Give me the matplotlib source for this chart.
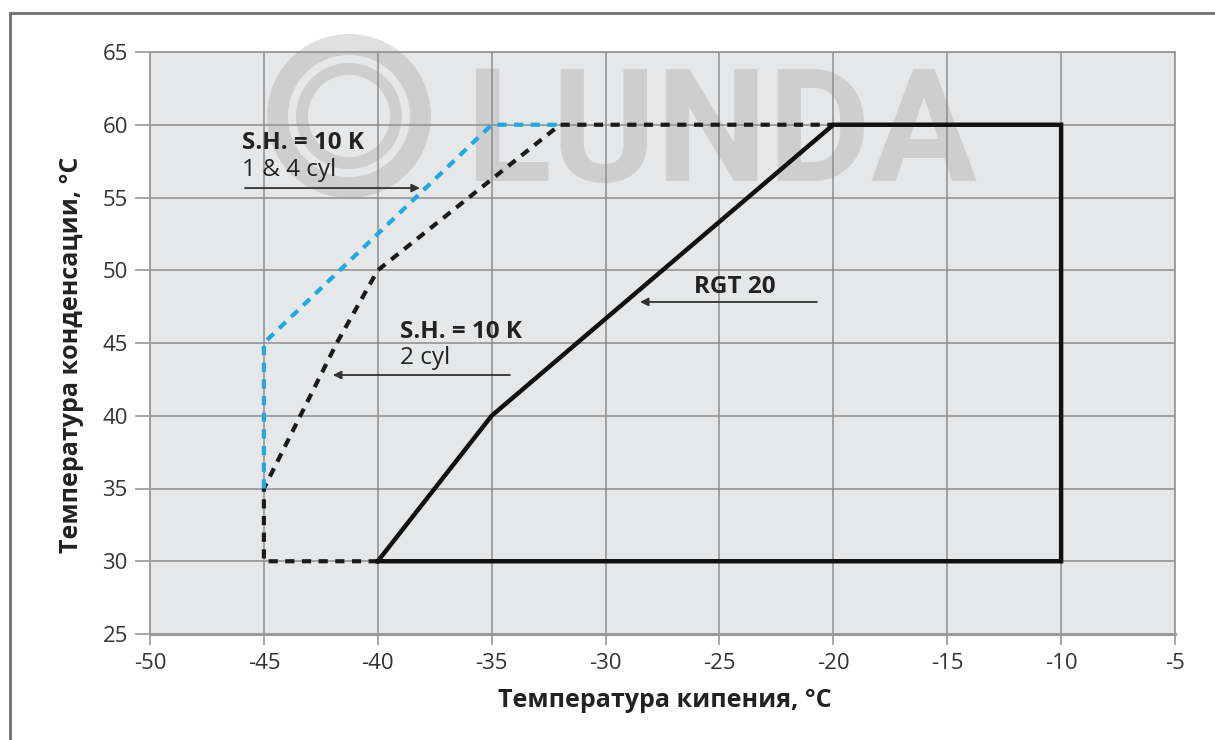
import matplotlib
matplotlib.use("Agg")
import matplotlib.pyplot as plt
from matplotlib.patches import Annulus, Rectangle

# ---- data ----
x_ticks = [-50, -45, -40, -35, -30, -25, -20, -15, -10, -5]
y_ticks = [25, 30, 35, 40, 45, 50, 55, 60, 65]

rgt_x = [-40, -35, -20, -10, -10, -40]
rgt_y = [30, 40, 60, 60, 30, 30]

sh2_x = [-40, -45, -45, -41.8, -40, -32, -20]
sh2_y = [30, 30, 35, 45, 50, 60, 60]

sh14_x = [-45, -45, -35, -32]
sh14_y = [35, 45, 60, 60]

xlabel = "Температура кипения, °C"
ylabel = "Температура конденсации, °C"

FONT = ["Open Sans", "DejaVu Sans"]
plt.rcParams["font.family"] = FONT

fig = plt.figure(figsize=(12.15, 7.40), dpi=100)
fig.patch.set_facecolor("white")
ax = fig.add_axes([150/1215, 1-634/740, 1025/1215, 582/740])
ax.set_facecolor("#e6e7e8")
ax.set_xlim(-50, -5)
ax.set_ylim(25, 65)
ax.set_xticks(x_ticks)
ax.set_yticks(y_ticks)
ax.set_xticklabels([str(v) for v in x_ticks])
ax.set_yticklabels([str(v) for v in y_ticks])
ax.set_axisbelow(True)
ax.grid(True, color="#8e8e8e", lw=1.1)
for s in ax.spines.values():
    s.set_color("#9a9a9a")
    s.set_linewidth(1.3)
ax.spines["bottom"].set_linewidth(2.2)
ax.tick_params(axis="y", length=11, width=1.1, color="#8e8e8e", pad=5,
               labelsize=16, labelcolor="#333333")
ax.tick_params(axis="x", length=8, width=1.1, color="#8e8e8e", pad=6,
               labelsize=16, labelcolor="#333333")

ax.set_xlabel(xlabel, fontsize=18, fontweight="bold", color="#222222")
ax.set_ylabel(ylabel, fontsize=18, fontweight="bold", color="#222222")
ax.xaxis.set_label_coords(0.502, -0.093)
ax.yaxis.set_label_coords(-0.064, 0.48)

# ---- watermark ----
wm_col = "#8a8a8a"
ax.text(466/1215, 1-181/740, "LUNDA", transform=fig.transFigure,
        fontsize=114, family=["Roboto", "DejaVu Sans"], fontweight="bold",
        color=wm_col, alpha=0.26, ha="left", va="baseline", clip_on=False,
        zorder=0.3)
for r, w in [(0.82, 0.21), (0.53, 0.12)]:
    ax.add_patch(Annulus((3.49, 6.24), r, w, transform=fig.dpi_scale_trans,
                         facecolor=wm_col, edgecolor="none", alpha=0.26,
                         clip_on=False, zorder=0.3))

# ---- curves ----
ax.plot(sh2_x, sh2_y, color="#1a1a1a", lw=3.0, ls=(0, (2.2, 1.8)),
        solid_capstyle="butt", zorder=3)
ax.plot(sh14_x, sh14_y, color="#1fa8e4", lw=3.0, ls=(0, (2.2, 1.8)), zorder=3.2)
ax.plot(rgt_x, rgt_y, color="#111111", lw=3.2, solid_joinstyle="miter", zorder=4)

# ---- annotations ----
ax.text(-45.96, 58.75, "S.H. = 10 K", fontsize=17.5, fontweight="bold",
        color="#222222", ha="left", va="center", zorder=5)
ax.text(-45.96, 56.9, "1 & 4 cyl", fontsize=17.5, color="#222222",
        ha="left", va="center", zorder=5)
ax.annotate("", xy=(-38.15, 55.65), xytext=(-45.83, 55.65),
            arrowprops=dict(arrowstyle="-|>", color="#333333", lw=1.3,
                            mutation_scale=12, shrinkA=0, shrinkB=0), zorder=5)

ax.text(-39.03, 45.76, "S.H. = 10 K", fontsize=17.5, fontweight="bold",
        color="#222222", ha="left", va="center", zorder=5)
ax.text(-39.03, 44.0, "2 cyl", fontsize=17.5, color="#222222",
        ha="left", va="center", zorder=5)
ax.annotate("", xy=(-41.97, 42.8), xytext=(-34.2, 42.8),
            arrowprops=dict(arrowstyle="-|>", color="#333333", lw=1.3,
                            mutation_scale=12, shrinkA=0, shrinkB=0), zorder=5)

ax.text(-24.32, 48.85, "RGT 20", fontsize=17.5, fontweight="bold",
        color="#222222", ha="center", va="center", zorder=5)
ax.annotate("", xy=(-28.49, 47.82), xytext=(-20.72, 47.82),
            arrowprops=dict(arrowstyle="-|>", color="#333333", lw=1.3,
                            mutation_scale=12, shrinkA=0, shrinkB=0), zorder=5)

# ---- outer frame ----
fig.patches.append(Rectangle((10/1215, -0.1), 1.2, 1-13/740+0.1,
                             transform=fig.transFigure, fill=False,
                             edgecolor="#707070", lw=2.0))

fig.savefig("out.png", dpi=100, facecolor="white")
